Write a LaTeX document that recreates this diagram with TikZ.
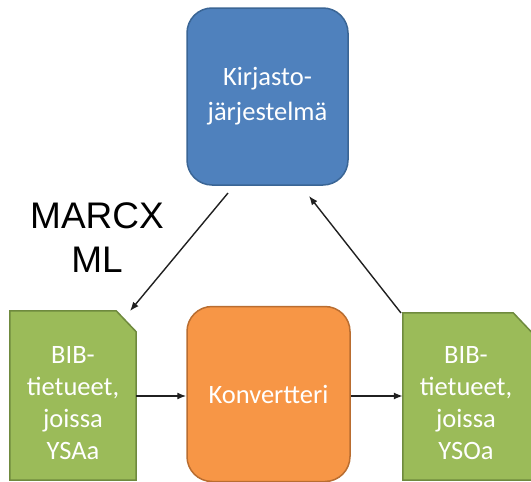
\documentclass[tikz,border=0pt]{standalone}
\usepackage{fontspec}
\setmainfont{Carlito}
\newfontfamily\labelfont{Liberation Sans}
\usetikzlibrary{arrows.meta}
\definecolor{sysblue}{HTML}{4F81BD}
\definecolor{sysblueline}{HTML}{3A6595}
\definecolor{convorange}{HTML}{F79646}
\definecolor{convorangeline}{HTML}{B96D30}
\definecolor{recgreen}{HTML}{9BBB59}
\definecolor{recgreenline}{HTML}{6F8A3E}
\definecolor{arrowgray}{HTML}{202020}

\begin{document}
\begin{tikzpicture}[x=1pt,y=1pt,
  roundbox/.style={shape=rectangle,rounded corners=25pt,line width=1.5pt,
    text=white,font=\fontsize{26.5}{35}\selectfont,align=center},
  recbox/.style={shape=rectangle,minimum width=126pt,minimum height=169pt,inner sep=0pt},
  recfill/.style={draw=recgreenline,fill=recgreen,line width=1.5pt},
  rectext/.style={text=white,font=\fontsize{26.5}{32}\selectfont,align=center},
  arr/.style={-{Latex[length=9pt,width=7pt]},line width=1.4pt,draw=arrowgray}]
\useasboundingbox (0,0) rectangle (531,-482);

\node[roundbox,draw=sysblueline,fill=sysblue,minimum width=161pt,minimum height=177pt] (kirjasto) at (267.5,-96.5) {Kirjasto-\\järjestelmä};
\node[roundbox,draw=convorangeline,fill=convorange,minimum width=163pt,minimum height=175pt] (konv) at (268.5,-394) {Konvertteri};
\node[recbox] (ysa) at (73,-395.5) {};
\node[recbox,minimum width=129pt,minimum height=167pt] (yso) at (467.5,-396.5) {};

% dog-eared record shapes
\draw[recfill] (ysa.south west) -- (ysa.north west) -- ([xshift=-20pt]ysa.north east)
  -- ([yshift=-21pt]ysa.north east) -- (ysa.south east) -- cycle;
\draw[recfill] (yso.south west) -- (yso.north west) -- ([xshift=-19pt]yso.north east)
  -- ([yshift=-20pt]yso.north east) -- (yso.south east) -- cycle;

\node[rectext] (ysatext) at (73,-403) {BIB-\\tietueet,\\joissa\\YSAa};
\node[rectext] (ysotext) at (466,-403) {BIB-\\tietueet,\\joissa\\YSOa};
\node[font=\labelfont\fontsize{37}{44}\selectfont,align=center] (marc) at (97,-238) {MARCX\\ML};

\coordinate (marcout) at (228,-193);
\coordinate (marcin) at (130,-311);
\coordinate (ysoout) at (401,-313);
\coordinate (ysoin) at (309,-196);

\draw[arr] (marcout) -- (marcin);
\draw[arr] (ysoout) -- (ysoin);
\draw[arr] (ysa.east |- 0,-396) -- (konv.west |- 0,-396);
\draw[arr] (konv.east |- 0,-396) -- (yso.west |- 0,-396);
\end{tikzpicture}
\end{document}
